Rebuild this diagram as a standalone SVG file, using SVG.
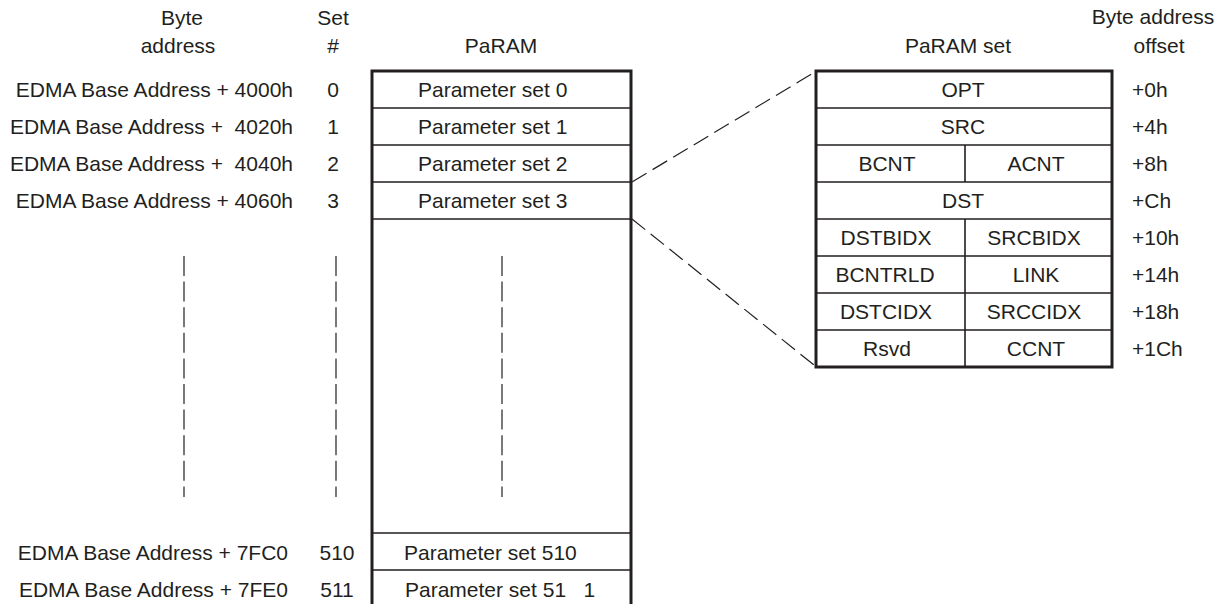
<svg xmlns="http://www.w3.org/2000/svg" width="1225" height="604" viewBox="0 0 1225 604">
<style>
text{font-family:"Liberation Sans",Arial,sans-serif;font-size:21px;fill:#231f20;white-space:pre}
.m{text-anchor:middle}
.e{text-anchor:end}
.box{fill:#fff;stroke:#231f20;stroke-width:3}
.row{stroke:#231f20;stroke-width:1.6;fill:none}
.vd{stroke:#231f20;stroke-width:1.2;stroke-dasharray:20 5.6;fill:none}
.dd{stroke:#231f20;stroke-width:1.2;stroke-dasharray:17 7;fill:none}
</style>
<rect width="1225" height="604" fill="#fff"/>
<g id="headers">
<text class="m" x="182" y="25">Byte</text>
<text class="m" x="178" y="53">address</text>
<text class="m" x="333" y="25">Set</text>
<text class="m" x="333" y="53">#</text>
<text class="m" x="501" y="53">PaRAM</text>
<text class="m" x="958" y="53">PaRAM set</text>
<text class="m" x="1153" y="24">Byte address</text>
<text class="m" x="1159" y="53">offset</text>
</g>
<g id="addresses">
<text class="e" x="293" y="97">EDMA Base Address + 4000h</text>
<text class="e" x="293" y="134" xml:space="preserve">EDMA Base Address +  4020h</text>
<text class="e" x="293" y="171" xml:space="preserve">EDMA Base Address +  4040h</text>
<text class="e" x="293" y="208">EDMA Base Address + 4060h</text>
<text class="e" x="288" y="560">EDMA Base Address + 7FC0</text>
<text class="e" x="288" y="597">EDMA Base Address + 7FE0</text>
</g>
<g id="set-numbers">
<text class="m" x="333" y="97">0</text>
<text class="m" x="333" y="134">1</text>
<text class="m" x="333" y="171">2</text>
<text class="m" x="333" y="208">3</text>
<text class="m" x="337" y="560">510</text>
<text class="m" x="337" y="597">511</text>
</g>
<g id="ellipsis">
<line class="vd" x1="184" y1="256" x2="184" y2="497"/>
<line class="vd" x1="336" y1="256" x2="336" y2="497"/>
<line class="vd" x1="502" y1="256" x2="502" y2="497"/>
</g>
<g id="param-ram">
<rect class="box" x="372" y="71" width="259" height="560"/>
<path class="row" d="M372 108H631M372 145H631M372 182H631M372 219H631M372 533H631M372 570H631"/>
<text x="418" y="97">Parameter set 0</text>
<text x="418" y="134">Parameter set 1</text>
<text x="418" y="171">Parameter set 2</text>
<text x="418" y="208">Parameter set 3</text>
<text x="404" y="560">Parameter set 510</text>
<text x="405" y="597" xml:space="preserve">Parameter set 51   1</text>
<line class="vd" x1="502" y1="256" x2="502" y2="497"/>
</g>
<g id="connectors">
<line class="dd" x1="632" y1="182" x2="815" y2="72"/>
<line class="dd" x1="632" y1="219" x2="814" y2="365"/>
</g>
<g id="param-set">
<rect class="box" x="816" y="71" width="296" height="296"/>
<path class="row" d="M816 108H1112M816 145H1112M816 182H1112M816 219H1112M816 256H1112M816 293H1112M816 330H1112M965 145V182M965 219V367"/>
<text class="m" x="963" y="97">OPT</text>
<text class="m" x="963" y="134">SRC</text>
<text class="m" x="887" y="171">BCNT</text>
<text class="m" x="1036" y="171">ACNT</text>
<text class="m" x="963" y="208">DST</text>
<text class="m" x="886" y="245">DSTBIDX</text>
<text class="m" x="1034" y="245">SRCBIDX</text>
<text class="m" x="885" y="282">BCNTRLD</text>
<text class="m" x="1036" y="282">LINK</text>
<text class="m" x="886" y="319">DSTCIDX</text>
<text class="m" x="1034" y="319">SRCCIDX</text>
<text class="m" x="887" y="356">Rsvd</text>
<text class="m" x="1036" y="356">CCNT</text>
</g>
<g id="offsets">
<text x="1132" y="97">+0h</text>
<text x="1132" y="134">+4h</text>
<text x="1132" y="171">+8h</text>
<text x="1132" y="208">+Ch</text>
<text x="1132" y="245">+10h</text>
<text x="1132" y="282">+14h</text>
<text x="1132" y="319">+18h</text>
<text x="1132" y="356">+1Ch</text>
</g>
</svg>
